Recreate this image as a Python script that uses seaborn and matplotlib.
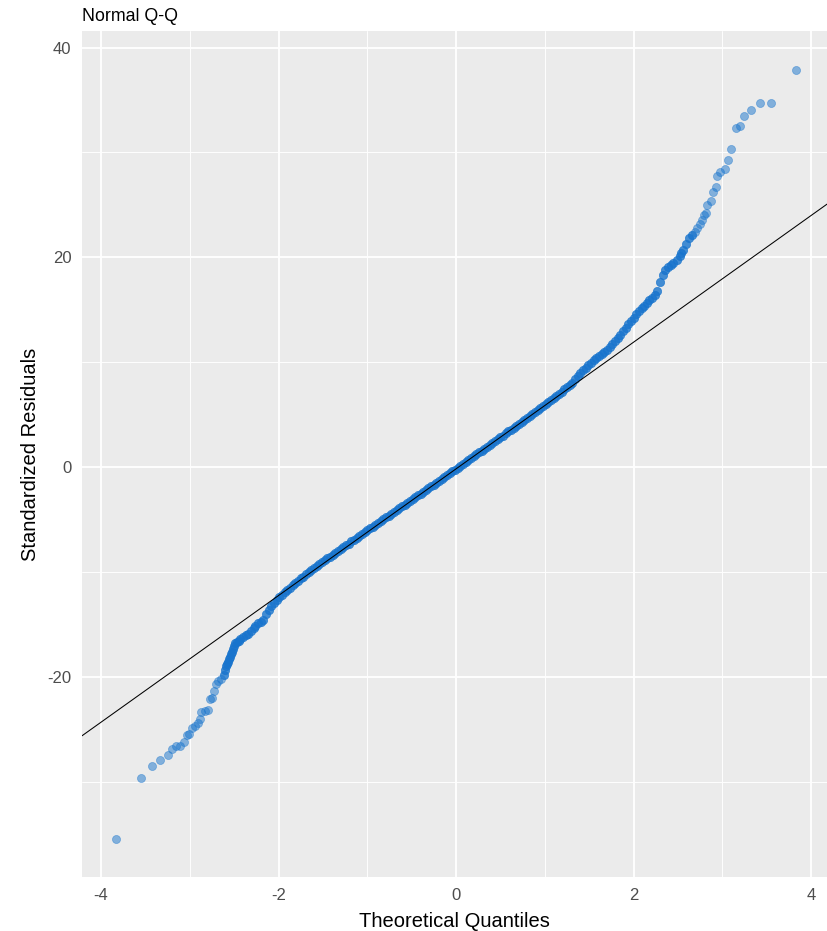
import matplotlib
matplotlib.use("Agg")
import matplotlib.pyplot as plt
import seaborn as sns
import pandas as pd

# ---- data ----
lower_x = [-3.83, -3.55, -3.42, -3.33, -3.25, -3.20, -3.15, -3.11, -3.07, -3.03, -3.01, -2.98,
           -2.94, -2.91, -2.88, -2.87, -2.83, -2.79, -2.77, -2.75, -2.73, -2.70, -2.68, -2.65,
           -2.61, -2.60, -2.59, -2.58, -2.57, -2.56, -2.55, -2.535, -2.52, -2.51, -2.50, -2.49,
           -2.47, -2.45, -2.43, -2.40, -2.37, -2.34, -2.31, -2.28, -2.26, -2.23, -2.20, -2.17]
lower_y = [-35.5, -29.7, -28.5, -27.9, -27.5, -26.9, -26.6, -26.6, -26.2, -25.6, -25.5, -24.9,
           -24.7, -24.4, -24.0, -23.4, -23.3, -23.2, -22.1, -22.0, -21.4, -20.7, -20.4, -20.2,
           -19.8, -19.4, -19.0, -18.8, -18.6, -18.35, -18.1, -17.85, -17.6, -17.35, -17.1, -16.8,
           -16.7, -16.6, -16.4, -16.2, -16.05, -15.9, -15.65, -15.4, -15.2, -14.9, -14.75, -14.6]

band_x = [-2.14, -2.11, -2.08, -2.05, -2.02, -1.99, -1.96, -1.93, -1.90, -1.87,
          -1.84, -1.81, -1.78, -1.75, -1.72, -1.69, -1.66, -1.63, -1.60, -1.57,
          -1.54, -1.51, -1.48, -1.45, -1.42, -1.39, -1.36, -1.33, -1.30, -1.27,
          -1.24, -1.21, -1.18, -1.15, -1.12, -1.09, -1.06, -1.03, -1.00, -0.97,
          -0.94, -0.91, -0.88, -0.85, -0.82, -0.79, -0.76, -0.73, -0.70, -0.67,
          -0.64, -0.61, -0.58, -0.55, -0.52, -0.49, -0.46, -0.43, -0.40, -0.37,
          -0.34, -0.31, -0.28, -0.25, -0.22, -0.19, -0.16, -0.13, -0.10, -0.07,
          -0.04, -0.01, 0.02, 0.05, 0.08, 0.11, 0.14, 0.17, 0.20, 0.23,
          0.26, 0.29, 0.32, 0.35, 0.38, 0.41, 0.44, 0.47, 0.50, 0.53,
          0.56, 0.59, 0.62, 0.65, 0.68, 0.71, 0.74, 0.77, 0.80, 0.83,
          0.86, 0.89, 0.92, 0.95, 0.98, 1.01, 1.04, 1.07, 1.10, 1.13,
          1.16, 1.19, 1.22, 1.25, 1.28, 1.31, 1.34, 1.37, 1.40, 1.43,
          1.46, 1.49, 1.52, 1.55, 1.58, 1.61, 1.64, 1.67, 1.70, 1.73,
          1.76, 1.79, 1.82, 1.85, 1.88, 1.91, 1.94, 1.97, 2.00, 2.03,
          2.06, 2.09, 2.12, 2.15, 2.18, 2.21, 2.24, 2.27, 2.30, 2.33,
          2.36]
band_y = [-14.0, -13.6, -13.3, -13.0, -12.7, -12.4, -12.2, -11.9, -11.7, -11.5,
          -11.3, -11.1, -10.9, -10.6, -10.45, -10.25, -10.05, -9.85, -9.65, -9.45,
          -9.25, -9.1, -8.9, -8.7, -8.55, -8.35, -8.2, -8.0, -7.8, -7.65,
          -7.45, -7.3, -7.1, -6.95, -6.75, -6.55, -6.4, -6.2, -6.05, -5.85,
          -5.7, -5.5, -5.35, -5.15, -5.0, -4.8, -4.65, -4.45, -4.3, -4.1,
          -3.95, -3.75, -3.6, -3.4, -3.25, -3.05, -2.9, -2.7, -2.55, -2.4,
          -2.2, -2.05, -1.85, -1.7, -1.5, -1.35, -1.15, -0.95, -0.8, -0.6,
          -0.4, -0.25, -0.05, 0.1, 0.3, 0.5, 0.65, 0.85, 1.05, 1.2,
          1.4, 1.55, 1.75, 1.9, 2.1, 2.3, 2.5, 2.65, 2.85, 3.0,
          3.2, 3.4, 3.55, 3.75, 3.9, 4.1, 4.3, 4.5, 4.65, 4.85,
          5.05, 5.2, 5.4, 5.6, 5.8, 6.0, 6.2, 6.4, 6.6, 6.8,
          7.0, 7.2, 7.4, 7.6, 7.8, 8.05, 8.4, 8.7, 9.0, 9.25,
          9.45, 9.7, 9.95, 10.2, 10.4, 10.6, 10.75, 10.95, 11.15, 11.4,
          11.7, 12.0, 12.3, 12.6, 12.95, 13.3, 13.6, 13.9, 14.2, 14.55,
          14.85, 15.15, 15.4, 15.65, 15.9, 16.15, 16.4, 16.8, 17.6, 18.3,
          18.8]

upper_x = [2.39, 2.42, 2.45, 2.49, 2.52, 2.54, 2.56, 2.59, 2.62, 2.66, 2.69, 2.72, 2.75, 2.77,
           2.79, 2.82, 2.83, 2.87, 2.90, 2.93, 2.94, 2.98, 3.03, 3.06, 3.10, 3.15, 3.20, 3.25,
           3.32, 3.42, 3.55, 3.83]
upper_y = [19.1, 19.3, 19.5, 19.7, 20.1, 20.4, 20.7, 21.3, 21.8, 22.1, 22.4, 22.8, 23.2, 23.6,
           24.0, 24.2, 25.0, 25.4, 26.2, 26.7, 27.75, 28.1, 28.4, 29.25, 30.3, 32.3, 32.55, 33.5,
           34.05, 34.7, 34.7, 37.9]

# where the sample is dense (many overlapping observations in the original)
dense_from, dense_to = -2.62, 2.66

line_intercept = -0.18
line_slope = 6.04

x_ticks = [-4, -2, 0, 2, 4]
y_ticks = [-20, 0, 20, 40]
x_minor = [-3, -1, 1, 3]
y_minor = [-30, -10, 10, 30]

title = "Normal Q-Q"
x_label = "Theoretical Quantiles"
y_label = "Standardized Residuals"

# ---- figure ----
sns.set_style("white")
plt.rcParams["font.family"] = ["Liberation Sans", "DejaVu Sans"]
plt.rcParams["axes.unicode_minus"] = False

df = pd.DataFrame({
    "theoretical": lower_x + band_x + upper_x,
    "residual": lower_y + band_y + upper_y,
})
df["dense"] = df["theoretical"].between(dense_from, dense_to)

W, H = 827, 931
fig = plt.figure(figsize=(W / 100, H / 100), dpi=100)
left, right, top, bottom = 82, 827, 31, 877
ax = fig.add_axes([left / W, (H - bottom) / H, (right - left) / W, (bottom - top) / H])
ax.set_facecolor("#EBEBEB")

point_color = "#1874CD"
sns.scatterplot(data=df[~df["dense"]], x="theoretical", y="residual", ax=ax, color=point_color,
                edgecolor=point_color, linewidth=0.5, s=34, alpha=0.5, legend=False, zorder=3)
sns.scatterplot(data=df[df["dense"]], x="theoretical", y="residual", ax=ax, color=point_color,
                edgecolor=point_color, linewidth=0.5, s=36, alpha=0.8, legend=False, zorder=3)
ax.axline((0, line_intercept), slope=line_slope, color="black", lw=0.75, zorder=4)

ax.set_xlim(-4.214, 4.18)
ax.set_ylim(-39.1, 41.58)
ax.set_xticks(x_ticks)
ax.set_yticks(y_ticks)
ax.set_xticks(x_minor, minor=True)
ax.set_yticks(y_minor, minor=True)
ax.grid(which="major", color="white", lw=1.3, zorder=0)
ax.grid(which="minor", color="white", lw=0.65, zorder=0)
ax.set_axisbelow(True)
for sp in ax.spines.values():
    sp.set_visible(False)

ax.tick_params(which="major", color="#333333", labelcolor="#4D4D4D", length=3.8,
               width=0.9, labelsize=12, pad=3.8)
ax.tick_params(which="minor", length=0)

ax.set_title(title, loc="left", fontsize=12.8, color="black", pad=7.4)
ax.set_xlabel(x_label, fontsize=14.5, color="black")
ax.set_ylabel(y_label, fontsize=14.5, color="black")
ax.xaxis.set_label_coords(0.5, -(927 - bottom) / (bottom - top))
ax.xaxis.label.set_va("baseline")
ax.yaxis.set_label_coords((31 - left) / (right - left), 0.5)
ax.yaxis.label.set_va("center")
ax.yaxis.label.set_ha("center")

fig.savefig("out.png", dpi=100)
